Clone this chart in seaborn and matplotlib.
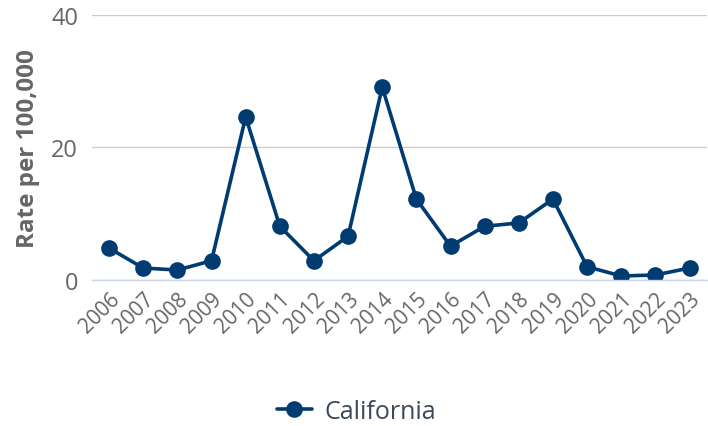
import matplotlib.pyplot as plt
import pandas as pd
import seaborn as sns

years = [str(y) for y in range(2006, 2024)]
rates = [4.8, 1.8, 1.5, 2.9, 24.6, 8.1, 2.9, 6.6, 29.1, 12.2,
         5.1, 8.1, 8.6, 12.2, 2.0, 0.6, 0.75, 1.8]
series_name = "California"

NAVY = "#003b71"
GRAY = "#666666"
AXIS = "#ccd6eb"

df = pd.DataFrame({"Year": years, "Rate": rates, "State": series_name})

sns.set_style("white")
plt.rcParams["font.family"] = ["Open Sans", "DejaVu Sans"]

fig = plt.figure(figsize=(7.08, 4.27), dpi=100)
ax = fig.add_axes([0.130, 0.342, 0.868, 0.621])

sns.lineplot(data=df, x="Year", y="Rate", hue="State", palette=[NAVY],
             marker="o", markersize=12, markeredgewidth=0, linewidth=2.6,
             ax=ax, legend=True)

ax.set_xlim(-0.5, len(years) - 0.5)
ax.set_ylim(0, 40)
ax.set_yticks([0, 20, 40])
ax.yaxis.grid(True, color="#cccccc", linewidth=1)
ax.set_axisbelow(True)

# category labels at centers, tick marks at category boundaries
ax.set_xticks(range(len(years)))
ax.set_xticklabels(years, rotation=45, ha="right", rotation_mode="anchor",
                   fontsize=15, color=GRAY)
ax.set_xticks([i - 0.5 for i in range(len(years) + 1)], minor=True)
ax.tick_params(axis="x", which="major", length=0, pad=6)
ax.tick_params(axis="x", which="minor", length=7, width=1, color=AXIS)
ax.tick_params(axis="y", length=0, labelsize=17, labelcolor=GRAY, pad=10)

for side in ["left", "right", "top"]:
    ax.spines[side].set_visible(False)
ax.spines["bottom"].set_color(AXIS)
ax.spines["bottom"].set_linewidth(1)

ax.set_xlabel("")
ax.set_ylabel("Rate per 100,000", fontsize=17.5, fontweight="bold", color=GRAY,
              labelpad=8)

handles, labels = ax.get_legend_handles_labels()
ax.get_legend().remove()
fig.legend(handles, labels, loc="center", bbox_to_anchor=(0.503, 0.035),
           frameon=False, fontsize=18, labelcolor="#3a4a5a",
           handlelength=1.4, handletextpad=0.5)

fig.savefig("out.png", dpi=100)
